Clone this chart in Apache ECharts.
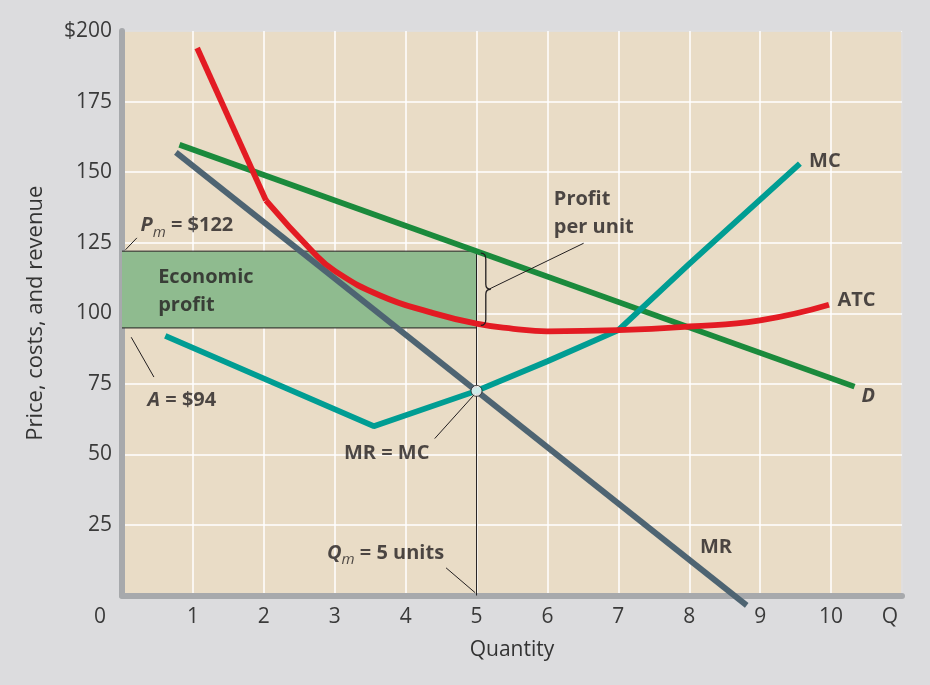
<!DOCTYPE html>
<html>
<head>
<meta charset="utf-8">
<script src="https://cdn.jsdelivr.net/npm/echarts@6/dist/echarts.min.js"></script>
<style>
  html, body { margin: 0; padding: 0; background: #dcdcde; }
  #echarts { width: 930px; height: 685px; }
</style>
</head>
<body>
<div id="echarts"></div>
<script>
// curves (quantity, dollars)
var demandQ = [0.81, 10.33];
var demandP = [159.7, 74];
var mrQ = [0.76, 8.81];
var mrP = [157, -3.5];
var mcQ = [0.61, 3.55, 5, 6, 7, 8, 9.56];
var mcP = [92, 60, 72.5, 83, 94, 117.5, 153];
var atcSteepQ = [1.06, 2.03];
var atcSteepP = [194, 140];
var atcCurveQ = [2.03, 2.7, 3, 3.64, 4.34, 5, 5.52, 6, 7, 8, 9, 9.97];
var atcCurveP = [140, 121.5, 115, 106.3, 100.4, 96.3, 94.5, 93.6, 94, 95.3, 97.5, 103];

// profit max point
var qm = 5;
var pm = 122;
var atcAtQm = 94.8;
var mrEqMc = 72.5;

// tick labels
var yTicks = [0, 25, 50, 75, 100, 125, 150, 175, 200];

// annotations
var annoText = [
  '{b|MC}',
  '{b|ATC}',
  '{bi|D}',
  '{b|MR}',
  '{b|Profit}\n{b|per unit}',
  '{b|Economic}\n{b|profit}',
  '{bi|P}{sub|m}{b| = $122}',
  '{bi|A}{b| = $94}',
  '{b|MR = MC}',
  '{bi|Q}{sub|m}{b| = 5 units}'
];
var annoQ = [9.69, 10.09, 10.43, 8.15, 6.09, 0.51, 0.26, 0.36, 3.13, 2.89];
var annoP = [154, 104.5, 70.5, 17.2, 135.3, 107.7, 131, 69.2, 50.4, 15];

// leader lines [q1, p1, q2, p2]
var leaders = [
  [0.05, 122.5, 0.21, 126.7],
  [0.13, 91.5, 0.45, 77.4],
  [4.41, 55.6, 4.98, 71.5],
  [4.57, 9.8, 4.98, 1.0],
  [6.51, 124.8, 5.19, 108.7]
];

function zip(a, b) {
  return a.map(function (v, i) { return [v, b[i]]; });
}

var chartDom = document.getElementById('echarts');
var myChart = echarts.init(chartDom);

var FONT = 'Open Sans';
var INK = '#231f20';

function curve(name, q, p, color, smooth) {
  return {
    name: name,
    type: 'line',
    data: zip(q, p),
    symbol: 'none',
    smooth: smooth ? 0.5 : false,
    clip: false,
    lineStyle: { color: color, width: 5.8, cap: 'butt' },
    z: 3
  };
}

var series = [];

// economic profit rectangle + Qm drop line
series.push({
  name: 'profit',
  type: 'line',
  data: zip([0, qm, qm, 0], [pm, pm, atcAtQm, atcAtQm]),
  symbol: 'none',
  lineStyle: { color: INK, width: 1 },
  markArea: {
    silent: true,
    itemStyle: { color: '#8fbb8f' },
    data: [[{ coord: [0, pm] }, { coord: [qm, atcAtQm] }]]
  },
  z: 1
});
series.push({
  name: 'qm',
  type: 'line',
  data: zip([qm, qm], [pm, 0]),
  symbol: 'none',
  lineStyle: { color: INK, width: 1 },
  z: 2
});

series.push(curve('MR', mrQ, mrP, '#4e6472', false));
series.push(curve('D', demandQ, demandP, '#1b8a3c', false));
series.push(curve('MC', mcQ, mcP, '#009d93', false));
series.push(curve('ATC', atcSteepQ, atcSteepP, '#e31b23', false));
series.push(curve('ATC', atcCurveQ, atcCurveP, '#e31b23', true));

// leader lines
leaders.forEach(function (l) {
  series.push({
    name: 'leader',
    type: 'line',
    data: [[l[0], l[1]], [l[2], l[3]]],
    symbol: 'none',
    lineStyle: { color: INK, width: 1 },
    z: 4
  });
});

// brace for profit per unit
series.push({
  name: 'brace',
  type: 'custom',
  data: [[5.06, 121.3, 95.7]],
  encode: { x: 0, y: [1, 2] },
  renderItem: function (params, api) {
    var t = api.coord([api.value(0), api.value(1)]);
    var b = api.coord([api.value(0), api.value(2)]);
    var x = t[0], top = t[1], bot = b[1], m = (top + bot) / 2;
    var s = x + 5, tip = x + 10;
    var d = 'M' + x + ' ' + top +
      ' Q' + s + ' ' + top + ' ' + s + ' ' + (top + 6) +
      ' L' + s + ' ' + (m - 5) +
      ' Q' + s + ' ' + m + ' ' + tip + ' ' + m +
      ' Q' + s + ' ' + m + ' ' + s + ' ' + (m + 5) +
      ' L' + s + ' ' + (bot - 6) +
      ' Q' + s + ' ' + bot + ' ' + x + ' ' + bot;
    return {
      type: 'path',
      shape: { pathData: d },
      style: { stroke: INK, fill: 'none', lineWidth: 1.3 }
    };
  },
  z: 4
});

// MR = MC point
series.push({
  name: 'point',
  type: 'scatter',
  data: [[qm, mrEqMc]],
  symbol: 'circle',
  symbolSize: 11,
  itemStyle: { color: '#fff', borderColor: INK, borderWidth: 1 },
  z: 6
});

// text labels
series.push({
  name: 'labels',
  type: 'scatter',
  symbolSize: 0,
  silent: true,
  data: annoText.map(function (t, i) {
    return { value: [annoQ[i], annoP[i]], label: { formatter: t } };
  }),
  label: {
    show: true,
    position: 'right',
    distance: 0,
    lineHeight: 28,
    rich: {
      b: { fontFamily: FONT, fontWeight: 'bold', fontSize: 20, color: INK, lineHeight: 28 },
      bi: { fontFamily: FONT, fontWeight: 'bold', fontStyle: 'italic', fontSize: 20, color: INK, lineHeight: 28 },
      sub: { fontFamily: FONT, fontStyle: 'italic', fontSize: 15, color: INK, verticalAlign: 'bottom', lineHeight: 22 }
    }
  },
  z: 7
});

var option = {
  backgroundColor: '#dcdcde',
  animation: false,
  grid: {
    left: 122, right: 28, top: 31, bottom: 89.5,
    show: true,
    backgroundColor: '#e9dcc6',
    borderColor: INK,
    borderWidth: 1
  },
  xAxis: {
    type: 'value',
    min: 0, max: 11, interval: 1,
    name: 'Quantity',
    nameLocation: 'middle',
    nameGap: 44,
    nameTextStyle: { fontFamily: FONT, fontSize: 21, color: '#333' },
    axisLine: { lineStyle: { color: '#a7a9ac', width: 6 } },
    axisTick: { show: false },
    splitLine: { lineStyle: { color: '#ffffff', width: 1.5 } },
    axisLabel: {
      margin: 11,
      fontFamily: FONT, fontSize: 21, color: '#3a3a3a',
      formatter: function (v) {
        if (v === 0) return '{z|0}';
        if (v === 11) return '{q|Q}';
        return v;
      },
      rich: {
        z: { fontFamily: FONT, fontSize: 21, color: '#3a3a3a', padding: [0, 44, 0, 0] },
        q: { fontFamily: FONT, fontSize: 21, color: '#3a3a3a', padding: [0, 24, 0, 0] }
      }
    }
  },
  yAxis: {
    type: 'value',
    min: yTicks[0], max: yTicks[yTicks.length - 1], interval: 25,
    name: 'Price, costs, and revenue',
    nameLocation: 'middle',
    nameGap: 75,
    nameTextStyle: { fontFamily: FONT, fontSize: 22, color: '#333' },
    axisLine: { lineStyle: { color: '#a7a9ac', width: 6 } },
    axisTick: { show: false },
    splitLine: { lineStyle: { color: '#ffffff', width: 1.5 } },
    axisLabel: {
      margin: 10,
      fontFamily: FONT, fontSize: 21, color: '#3a3a3a',
      formatter: function (v) {
        if (v === 0) return '';
        if (v === 200) return '$200';
        return v;
      }
    }
  },
  series: series
};

option && myChart.setOption(option);
</script>
</body>
</html>
